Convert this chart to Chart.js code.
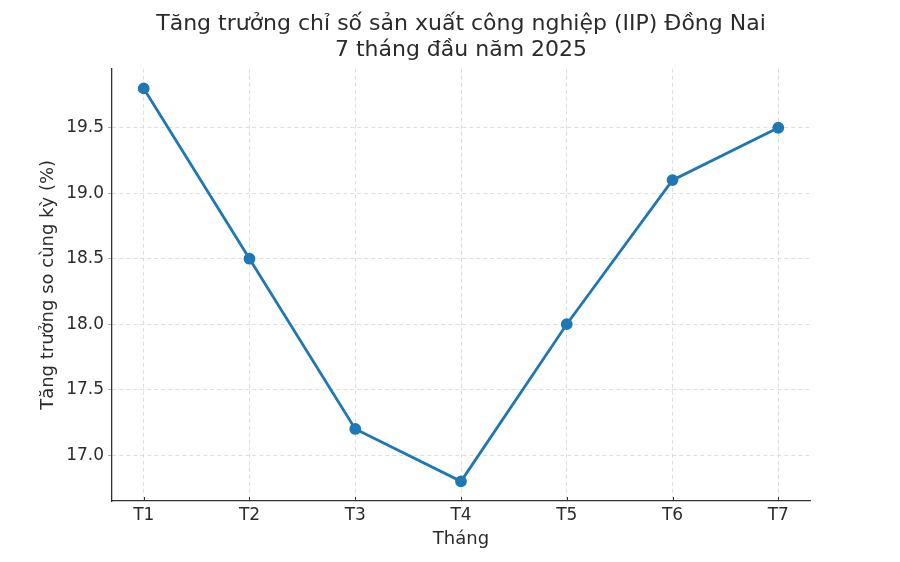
<!DOCTYPE html>
<html>
<head>
<meta charset="utf-8">
<script src="https://cdn.jsdelivr.net/npm/chart.js@4.4.1/dist/chart.umd.min.js"></script>
<style>
  html, body { margin: 0; padding: 0; background: #fff; }
  #wrap { width: 900px; height: 562px; }
</style>
</head>
<body>
<div id="wrap"><canvas id="iipChart" width="900" height="562"></canvas></div>
<script>
// Data
const months = ['T1', 'T2', 'T3', 'T4', 'T5', 'T6', 'T7'];
const growth = [19.8, 18.5, 17.2, 16.8, 18.0, 19.1, 19.5];
const yTicks = [17.0, 17.5, 18.0, 18.5, 19.0, 19.5];

const textColor = '#2b2b2b';
const font = 'DejaVu Sans';

const ctx = document.getElementById('iipChart').getContext('2d');

const points = months.map((m, i) => ({ x: i, y: growth[i] }));

// small inward tick marks on the bottom axis, like the original
const innerTicks = {
    id: 'innerTicks',
    afterDraw(chart) {
        const x = chart.scales.x;
        const c = chart.ctx;
        c.save();
        c.strokeStyle = '#333333';
        c.lineWidth = 1;
        x.ticks.forEach(t => {
            const px = Math.round(x.getPixelForValue(t.value)) + 0.5;
            c.beginPath();
            c.moveTo(px, x.top);
            c.lineTo(px, x.top - 4);
            c.stroke();
        });
        c.restore();
    }
};

new Chart(ctx, {
    type: 'line',
    data: {
        datasets: [{
            label: 'IIP',
            data: points,
            borderColor: '#1f77b4',
            backgroundColor: '#1f77b4',
            borderWidth: 2.8,
            pointRadius: 4.5,
            pointHoverRadius: 4.5,
            tension: 0
        }]
    },
    options: {
        responsive: false,
        animation: false,
        layout: { padding: { left: 22, right: 0, top: 0, bottom: 0 } },
        scales: {
            x: {
                type: 'linear',
                min: -0.3,
                max: 6.3,
                afterBuildTicks: scale => {
                    scale.ticks = months.map((m, i) => ({ value: i }));
                },
                afterFit: scale => { scale.height = 61; },
                ticks: {
                    color: textColor,
                    font: { family: font, size: 17 },
                    padding: 4,
                    callback: value => months[value]
                },
                grid: {
                    color: '#dadada',
                    lineWidth: 0.9,
                    drawTicks: false
                },
                border: { display: true, color: '#333333', width: 1.3, dash: [4, 3] },
                title: {
                    display: true,
                    text: 'Tháng',
                    color: textColor,
                    font: { family: font, size: 18 },
                    padding: { top: 2, bottom: 12 }
                }
            },
            y: {
                min: 16.65,
                max: 19.95,
                afterBuildTicks: scale => {
                    scale.ticks = yTicks.map(v => ({ value: v }));
                },
                afterFit: scale => { scale.width = 90; },
                ticks: {
                    color: textColor,
                    font: { family: font, size: 17 },
                    padding: 4,
                    callback: value => value.toFixed(1)
                },
                grid: {
                    color: '#dadada',
                    lineWidth: 0.9,
                    tickLength: 4,
                    tickColor: '#aaaaaa'
                },
                border: { display: true, color: '#333333', width: 1.3, dash: [4, 3] },
                title: {
                    display: true,
                    text: 'Tăng trưởng so cùng kỳ (%)',
                    color: textColor,
                    font: { family: font, size: 18 },
                    padding: { top: 16, bottom: 4 }
                }
            },
            // empty right-hand axis only to keep the plot's right margin
            y2: {
                position: 'right',
                display: true,
                afterFit: scale => { scale.width = 90; },
                ticks: { display: false },
                grid: { display: false, drawTicks: false },
                border: { display: false }
            }
        },
        plugins: {
            legend: { display: false },
            tooltip: { enabled: false },
            title: {
                display: true,
                text: ['Tăng trưởng chỉ số sản xuất công nghiệp (IIP) Đồng Nai', '7 tháng đầu năm 2025'],
                color: textColor,
                font: { family: font, size: 22, weight: 'normal', lineHeight: 1.2 },
                padding: { top: 11, bottom: 5 }
            }
        }
    },
    plugins: [innerTicks]
});
</script>
</body>
</html>
